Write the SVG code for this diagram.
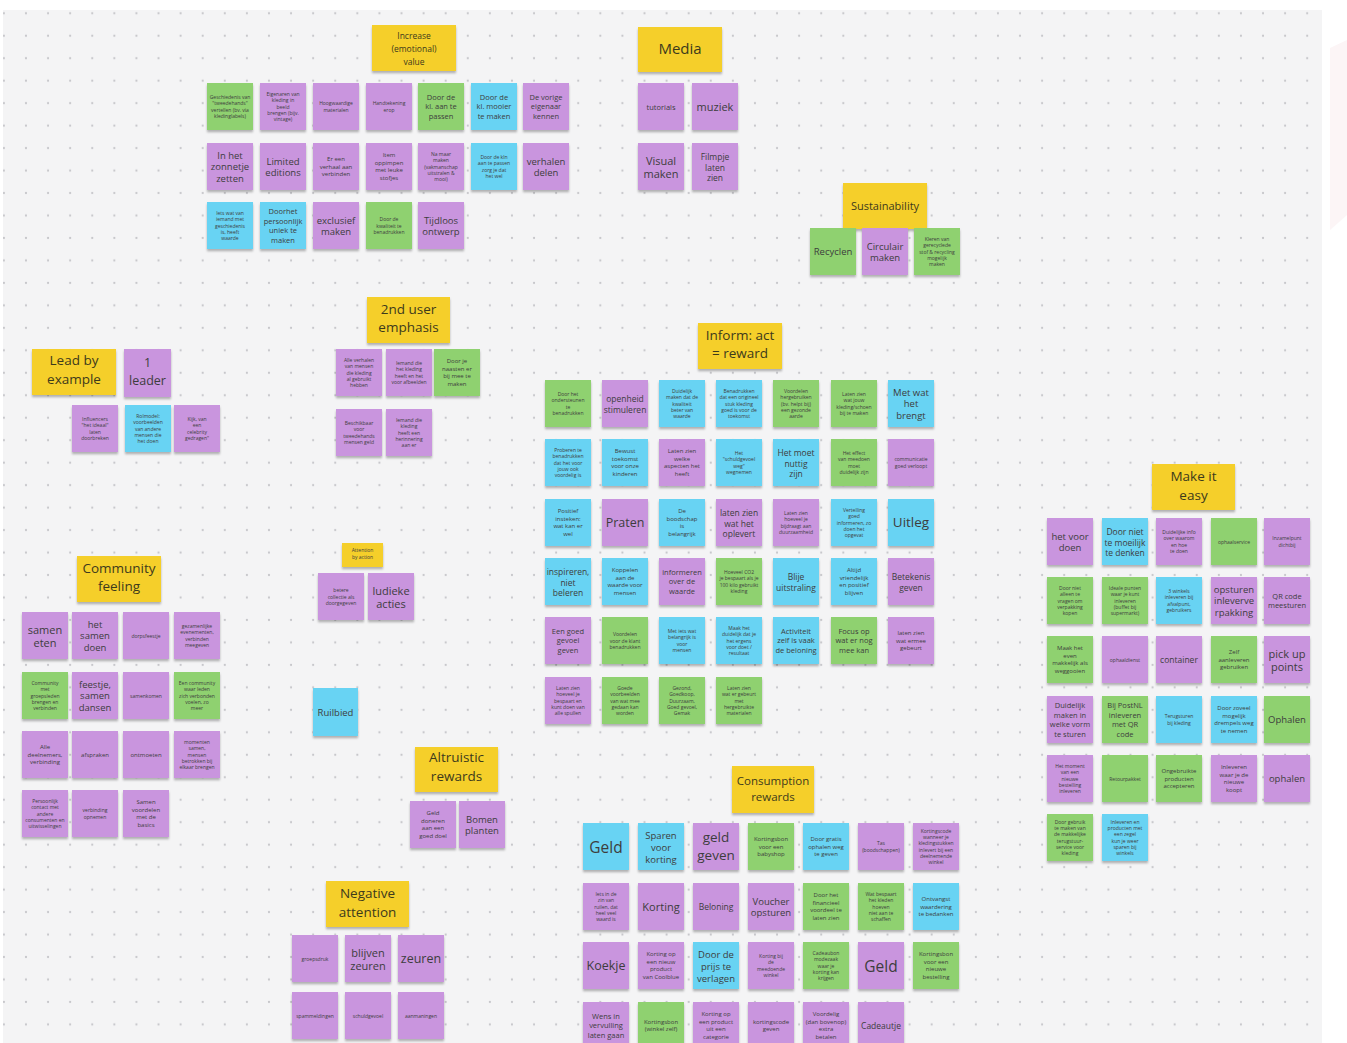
<svg xmlns="http://www.w3.org/2000/svg" width="1347" height="1043" viewBox="0 0 1347 1043">
<defs>
<pattern id="dots" patternUnits="userSpaceOnUse" x="3.9" y="13.3" width="22.09" height="22.47"><circle cx="0" cy="0" r="1.1" fill="#c6c6ca"/><circle cx="22.09" cy="0" r="1.1" fill="#c6c6ca"/><circle cx="0" cy="22.47" r="1.1" fill="#c6c6ca"/><circle cx="22.09" cy="22.47" r="1.1" fill="#c6c6ca"/></pattern>
<filter id="sh" x="-10%" y="-10%" width="120%" height="135%"><feDropShadow dx="0" dy="2.2" stdDeviation="1.3" flood-color="#000" flood-opacity="0.28"/></filter>
</defs>
<style>
.p{fill:#c995de}.g{fill:#8fd16f}.b{fill:#68d3f3}.y{fill:#f5cf2a}
rect.n{filter:url(#sh)}
text{font-family:"Open Sans","Noto Sans",sans-serif;text-anchor:middle;dominant-baseline:central;fill:#3d3d3d}
.s{font-size:5px}.t{font-size:6px}.m{font-size:7.5px}.ml{font-size:8.5px}.l{font-size:9.5px}.k{font-size:11px}.xl{font-size:12.5px}.xxl{font-size:15.5px}
.h{font-size:13.5px;fill:#3d3a1c}
</style>
<rect x="0" y="0" width="1347" height="1043" fill="#ffffff"/>
<polygon points="1330,48 1347,40 1347,215 1330,230" fill="#fcf5f6"/>
<rect x="3" y="10" width="1319" height="1033" fill="#f4f4f5"/>
<rect x="3" y="10" width="1319" height="1033" fill="url(#dots)"/>
<g id="connectors"/>

<!-- Increase (emotional) value -->
<g id="h-increase" transform="translate(372,25)"><rect class="n y" width="84" height="46"/><text class="h" style="font-size:8.5px" y="10.25"><tspan x="42">Increase</tspan><tspan x="42" dy="1.5em">(emotional)</tspan><tspan x="42" dy="1.5em">value</tspan></text></g>
<g id="inc-1" transform="translate(207,83)"><rect class="n g" width="46" height="47"/><text class="s" y="14.1"><tspan x="23">Geschiedenis van</tspan><tspan x="23" dy="1.25em">"tweedehands"</tspan><tspan x="23" dy="1.25em">vertellen (bv. via</tspan><tspan x="23" dy="1.25em">kledinglabels)</tspan></text></g>
<g id="inc-2" transform="translate(260,83)"><rect class="n p" width="46" height="47"/><text class="s" y="11"><tspan x="23">Eigenaren van</tspan><tspan x="23" dy="1.25em">kleding in</tspan><tspan x="23" dy="1.25em">beeld</tspan><tspan x="23" dy="1.25em">brengen (bijv.</tspan><tspan x="23" dy="1.25em">vintage)</tspan></text></g>
<g id="inc-3" transform="translate(313,83)"><rect class="n p" width="46" height="47"/><text class="s" y="20.4"><tspan x="23">Hoogwaardige</tspan><tspan x="23" dy="1.25em">materialen</tspan></text></g>
<g id="inc-4" transform="translate(366,83)"><rect class="n p" width="46" height="47"/><text class="s" y="20.4"><tspan x="23">Handtekening</tspan><tspan x="23" dy="1.25em">erop</tspan></text></g>
<g id="inc-5" transform="translate(418,83)"><rect class="n g" width="46" height="47"/><text class="m" y="14.1"><tspan x="23">Door de</tspan><tspan x="23" dy="1.25em">kl. aan te</tspan><tspan x="23" dy="1.25em">passen</tspan></text></g>
<g id="inc-6" transform="translate(471,83)"><rect class="n b" width="46" height="47"/><text class="m" y="14.1"><tspan x="23">Door de</tspan><tspan x="23" dy="1.25em">kl. mooier</tspan><tspan x="23" dy="1.25em">te maken</tspan></text></g>
<g id="inc-7" transform="translate(523,83)"><rect class="n p" width="46" height="47"/><text class="m" y="14.1"><tspan x="23">De vorige</tspan><tspan x="23" dy="1.25em">eigenaar</tspan><tspan x="23" dy="1.25em">kennen</tspan></text></g>
<g id="inc-8" transform="translate(207,143)"><rect class="n p" width="46" height="47"/><text class="l" y="11.6"><tspan x="23">In het</tspan><tspan x="23" dy="1.25em">zonnetje</tspan><tspan x="23" dy="1.25em">zetten</tspan></text></g>
<g id="inc-9" transform="translate(260,143)"><rect class="n p" width="46" height="47"/><text class="l" y="17.6"><tspan x="23">Limited</tspan><tspan x="23" dy="1.25em">editions</tspan></text></g>
<g id="inc-10" transform="translate(313,143)"><rect class="n p" width="46" height="47"/><text class="t" y="16"><tspan x="23">Er een</tspan><tspan x="23" dy="1.25em">verhaal aan</tspan><tspan x="23" dy="1.25em">verbinden</tspan></text></g>
<g id="inc-11" transform="translate(366,143)"><rect class="n p" width="46" height="47"/><text class="t" y="12.25"><tspan x="23">Item</tspan><tspan x="23" dy="1.25em">oppimpen</tspan><tspan x="23" dy="1.25em">met leuke</tspan><tspan x="23" dy="1.25em">stofjes</tspan></text></g>
<g id="inc-12" transform="translate(418,143)"><rect class="n p" width="46" height="47"/><text class="s" y="11"><tspan x="23">Na maar</tspan><tspan x="23" dy="1.25em">maken</tspan><tspan x="23" dy="1.25em">(vakmanschap</tspan><tspan x="23" dy="1.25em">uitstralen &amp;</tspan><tspan x="23" dy="1.25em">mooi)</tspan></text></g>
<g id="inc-13" transform="translate(471,143)"><rect class="n b" width="46" height="47"/><text class="s" y="14.1"><tspan x="23">Door de kln</tspan><tspan x="23" dy="1.25em">aan te passen</tspan><tspan x="23" dy="1.25em">zorg je dat</tspan><tspan x="23" dy="1.25em">het wel</tspan></text></g>
<g id="inc-14" transform="translate(523,143)"><rect class="n p" width="46" height="47"/><text class="l" y="17.6"><tspan x="23">verhalen</tspan><tspan x="23" dy="1.25em">delen</tspan></text></g>
<g id="inc-15" transform="translate(207,202)"><rect class="n b" width="46" height="47"/><text class="s" y="11"><tspan x="23">Iets wat van</tspan><tspan x="23" dy="1.25em">iemand met</tspan><tspan x="23" dy="1.25em">geschiedenis</tspan><tspan x="23" dy="1.25em">is, heeft</tspan><tspan x="23" dy="1.25em">waarde</tspan></text></g>
<g id="inc-16" transform="translate(260,202)"><rect class="n b" width="46" height="47"/><text class="m" y="9.4"><tspan x="23">Doorhet</tspan><tspan x="23" dy="1.25em">persoonlijk</tspan><tspan x="23" dy="1.25em">uniek te</tspan><tspan x="23" dy="1.25em">maken</tspan></text></g>
<g id="inc-17" transform="translate(313,202)"><rect class="n p" width="46" height="47"/><text class="l" y="17.6"><tspan x="23">exclusief</tspan><tspan x="23" dy="1.25em">maken</tspan></text></g>
<g id="inc-18" transform="translate(366,202)"><rect class="n g" width="46" height="47"/><text class="s" y="17.25"><tspan x="23">Door de</tspan><tspan x="23" dy="1.25em">kwaliteit te</tspan><tspan x="23" dy="1.25em">benadrukken</tspan></text></g>
<g id="inc-19" transform="translate(418,202)"><rect class="n p" width="46" height="47"/><text class="l" y="17.6"><tspan x="23">Tijdloos</tspan><tspan x="23" dy="1.25em">ontwerp</tspan></text></g>

<!-- Media -->
<g id="h-media" transform="translate(638,27)"><rect class="n y" width="84" height="45"/><text class="h" style="font-size:15px" x="42" y="21">Media</text></g>
<g id="med-1" transform="translate(638,83)"><rect class="n p" width="46" height="47"/><text class="m" x="23" y="23.5">tutorials</text></g>
<g id="med-2" transform="translate(692,83)"><rect class="n p" width="46" height="47"/><text class="k" x="23" y="23.5">muziek</text></g>
<g id="med-3" transform="translate(638,143)"><rect class="n p" width="46" height="47"/><text class="k" y="16.6"><tspan x="23">Visual</tspan><tspan x="23" dy="1.25em">maken</tspan></text></g>
<g id="med-4" transform="translate(692,143)"><rect class="n p" width="46" height="47"/><text class="ml" y="12.9"><tspan x="23">Filmpje</tspan><tspan x="23" dy="1.25em">laten</tspan><tspan x="23" dy="1.25em">zien</tspan></text></g>

<!-- Sustainability -->
<g id="h-sustain" transform="translate(843,183)"><rect class="n y" width="84" height="46"/><text class="h" style="font-size:11px" x="42" y="22">Sustainability</text></g>
<g id="sus-1" transform="translate(810,228)"><rect class="n g" width="46" height="47"/><text class="l" x="23" y="23.5">Recyclen</text></g>
<g id="sus-2" transform="translate(862,228)"><rect class="n p" width="46" height="47"/><text class="l" y="17.6"><tspan x="23">Circulair</tspan><tspan x="23" dy="1.25em">maken</tspan></text></g>
<g id="sus-3" transform="translate(914,228)"><rect class="n g" width="46" height="47"/><text class="s" y="11"><tspan x="23">Kleren van</tspan><tspan x="23" dy="1.25em">gerecyclede</tspan><tspan x="23" dy="1.25em">stof &amp; recycling</tspan><tspan x="23" dy="1.25em">mogelijk</tspan><tspan x="23" dy="1.25em">maken</tspan></text></g>

<!-- 2nd user emphasis -->
<g id="h-2nduser" transform="translate(367,297)"><rect class="n y" width="83" height="46"/><text class="h" y="11.5"><tspan x="41.5">2nd user</tspan><tspan x="41.5" dy="18.3">emphasis</tspan></text></g>
<g id="sec-1" transform="translate(336,349)"><rect class="n p" width="46" height="47"/><text class="s" y="11"><tspan x="23">Alle verhalen</tspan><tspan x="23" dy="1.25em">van mensen</tspan><tspan x="23" dy="1.25em">die kleding</tspan><tspan x="23" dy="1.25em">al gebruikt</tspan><tspan x="23" dy="1.25em">hebben</tspan></text></g>
<g id="sec-2" transform="translate(386,349)"><rect class="n p" width="46" height="47"/><text class="s" y="14.1"><tspan x="23">Iemand die</tspan><tspan x="23" dy="1.25em">het kleding</tspan><tspan x="23" dy="1.25em">heeft en het</tspan><tspan x="23" dy="1.25em">voor afbeelden</tspan></text></g>
<g id="sec-3" transform="translate(434,349)"><rect class="n g" width="46" height="47"/><text class="t" y="12.25"><tspan x="23">Door je</tspan><tspan x="23" dy="1.25em">naasten er</tspan><tspan x="23" dy="1.25em">bij mee te</tspan><tspan x="23" dy="1.25em">maken</tspan></text></g>
<g id="sec-4" transform="translate(336,409)"><rect class="n p" width="46" height="47"/><text class="s" y="14.1"><tspan x="23">Beschikbaar</tspan><tspan x="23" dy="1.25em">voor</tspan><tspan x="23" dy="1.25em">tweedehands</tspan><tspan x="23" dy="1.25em">mensen geld</tspan></text></g>
<g id="sec-5" transform="translate(386,409)"><rect class="n p" width="46" height="47"/><text class="s" y="11"><tspan x="23">Iemand die</tspan><tspan x="23" dy="1.25em">kleding</tspan><tspan x="23" dy="1.25em">heeft een</tspan><tspan x="23" dy="1.25em">herinnering</tspan><tspan x="23" dy="1.25em">aan er</tspan></text></g>

<!-- Lead by example -->
<g id="h-lead" transform="translate(32,349)"><rect class="n y" width="84" height="46"/><text class="h" y="11"><tspan x="42">Lead by</tspan><tspan x="42" dy="19">example</tspan></text></g>
<g id="lead-1" transform="translate(124,349)"><rect class="n p" width="47" height="48"/><text class="xl" y="13"><tspan x="23.5">1</tspan><tspan x="23.5" dy="18">leader</tspan></text></g>
<g id="lead-2" transform="translate(72,405)"><rect class="n p" width="46" height="47"/><text class="s" y="14.1"><tspan x="23">Influencers</tspan><tspan x="23" dy="1.25em">"het ideaal"</tspan><tspan x="23" dy="1.25em">laten</tspan><tspan x="23" dy="1.25em">doorbreken</tspan></text></g>
<g id="lead-3" transform="translate(125,405)"><rect class="n b" width="46" height="47"/><text class="s" y="11"><tspan x="23">Rolmodel:</tspan><tspan x="23" dy="1.25em">voorbeelden</tspan><tspan x="23" dy="1.25em">van andere</tspan><tspan x="23" dy="1.25em">mensen die</tspan><tspan x="23" dy="1.25em">het doen</tspan></text></g>
<g id="lead-4" transform="translate(174,405)"><rect class="n p" width="46" height="47"/><text class="s" y="14.1"><tspan x="23">Kijk, van</tspan><tspan x="23" dy="1.25em">een</tspan><tspan x="23" dy="1.25em">celebrity</tspan><tspan x="23" dy="1.25em">gedragen"</tspan></text></g>

<!-- Inform: act = reward -->
<g id="h-inform" transform="translate(698,323)"><rect class="n y" width="84" height="46"/><text class="h" y="12"><tspan x="42">Inform: act</tspan><tspan x="42" dy="18.3">= reward</tspan></text></g>
<g id="inf-1" transform="translate(545,380)"><rect class="n g" width="46" height="47"/><text class="s" y="14.1"><tspan x="23">Door het</tspan><tspan x="23" dy="1.25em">ondersteunen</tspan><tspan x="23" dy="1.25em">te</tspan><tspan x="23" dy="1.25em">benadrukken</tspan></text></g>
<g id="inf-2" transform="translate(602,380)"><rect class="n p" width="46" height="47"/><text class="ml" y="18.2"><tspan x="23">openheid</tspan><tspan x="23" dy="1.25em">stimuleren</tspan></text></g>
<g id="inf-3" transform="translate(659,380)"><rect class="n b" width="46" height="47"/><text class="s" y="11"><tspan x="23">Duidelijk</tspan><tspan x="23" dy="1.25em">maken dat de</tspan><tspan x="23" dy="1.25em">kwaliteit</tspan><tspan x="23" dy="1.25em">beter van</tspan><tspan x="23" dy="1.25em">waarde</tspan></text></g>
<g id="inf-4" transform="translate(716,380)"><rect class="n b" width="46" height="47"/><text class="s" y="11"><tspan x="23">Benadrukken</tspan><tspan x="23" dy="1.25em">dat een origineel</tspan><tspan x="23" dy="1.25em">stuk kleding</tspan><tspan x="23" dy="1.25em">goed is voor de</tspan><tspan x="23" dy="1.25em">toekomst</tspan></text></g>
<g id="inf-5" transform="translate(773,380)"><rect class="n g" width="46" height="47"/><text class="s" y="11"><tspan x="23">Voordelen</tspan><tspan x="23" dy="1.25em">hergebruiken</tspan><tspan x="23" dy="1.25em">(bv. helpt bij)</tspan><tspan x="23" dy="1.25em">een gezonde</tspan><tspan x="23" dy="1.25em">aarde</tspan></text></g>
<g id="inf-6" transform="translate(831,380)"><rect class="n g" width="46" height="47"/><text class="s" y="14.1"><tspan x="23">Laten zien</tspan><tspan x="23" dy="1.25em">wat jouw</tspan><tspan x="23" dy="1.25em">kleding/schoen</tspan><tspan x="23" dy="1.25em">bij te maken</tspan></text></g>
<g id="inf-7" transform="translate(888,380)"><rect class="n b" width="46" height="47"/><text class="l" y="11.6"><tspan x="23">Met wat</tspan><tspan x="23" dy="1.25em">het</tspan><tspan x="23" dy="1.25em">brengt</tspan></text></g>
<g id="inf-8" transform="translate(545,439)"><rect class="n b" width="46" height="47"/><text class="s" y="11"><tspan x="23">Proberen te</tspan><tspan x="23" dy="1.25em">benadrukken</tspan><tspan x="23" dy="1.25em">dat het voor</tspan><tspan x="23" dy="1.25em">jouw ook</tspan><tspan x="23" dy="1.25em">voordelig is</tspan></text></g>
<g id="inf-9" transform="translate(602,439)"><rect class="n b" width="46" height="47"/><text class="t" y="12.25"><tspan x="23">Bewust</tspan><tspan x="23" dy="1.25em">toekomst</tspan><tspan x="23" dy="1.25em">voor onze</tspan><tspan x="23" dy="1.25em">kinderen</tspan></text></g>
<g id="inf-10" transform="translate(659,439)"><rect class="n p" width="46" height="47"/><text class="t" y="12.25"><tspan x="23">Laten zien</tspan><tspan x="23" dy="1.25em">welke</tspan><tspan x="23" dy="1.25em">aspecten het</tspan><tspan x="23" dy="1.25em">heeft</tspan></text></g>
<g id="inf-11" transform="translate(716,439)"><rect class="n b" width="46" height="47"/><text class="s" y="14.1"><tspan x="23">Het</tspan><tspan x="23" dy="1.25em">"schuldgevoel</tspan><tspan x="23" dy="1.25em">weg"</tspan><tspan x="23" dy="1.25em">wegnemen</tspan></text></g>
<g id="inf-12" transform="translate(773,439)"><rect class="n b" width="46" height="47"/><text class="ml" y="12.9"><tspan x="23">Het moet</tspan><tspan x="23" dy="1.25em">nuttig</tspan><tspan x="23" dy="1.25em">zijn</tspan></text></g>
<g id="inf-13" transform="translate(831,439)"><rect class="n g" width="46" height="47"/><text class="s" y="14.1"><tspan x="23">Het effect</tspan><tspan x="23" dy="1.25em">van meedoen</tspan><tspan x="23" dy="1.25em">moet</tspan><tspan x="23" dy="1.25em">duidelijk zijn</tspan></text></g>
<g id="inf-14" transform="translate(888,439)"><rect class="n p" width="46" height="47"/><text class="s" y="20.4"><tspan x="23">communicatie</tspan><tspan x="23" dy="1.25em">goed verloopt</tspan></text></g>
<g id="inf-15" transform="translate(545,499)"><rect class="n b" width="46" height="47"/><text class="t" y="12.25"><tspan x="23">Positief</tspan><tspan x="23" dy="1.25em">insteken:</tspan><tspan x="23" dy="1.25em">wat kan er</tspan><tspan x="23" dy="1.25em">wel</tspan></text></g>
<g id="inf-16" transform="translate(602,499)"><rect class="n p" width="46" height="47"/><text class="xl" x="23" y="23.5">Praten</text></g>
<g id="inf-17" transform="translate(659,499)"><rect class="n b" width="46" height="47"/><text class="t" y="12.25"><tspan x="23">De</tspan><tspan x="23" dy="1.25em">boodschap</tspan><tspan x="23" dy="1.25em">is</tspan><tspan x="23" dy="1.25em">belangrijk</tspan></text></g>
<g id="inf-18" transform="translate(716,499)"><rect class="n p" width="46" height="47"/><text class="ml" y="12.9"><tspan x="23">laten zien</tspan><tspan x="23" dy="1.25em">wat het</tspan><tspan x="23" dy="1.25em">oplevert</tspan></text></g>
<g id="inf-19" transform="translate(773,499)"><rect class="n p" width="46" height="47"/><text class="s" y="14.1"><tspan x="23">Laten zien</tspan><tspan x="23" dy="1.25em">hoeveel je</tspan><tspan x="23" dy="1.25em">bijdraagt aan</tspan><tspan x="23" dy="1.25em">duurzaamheid</tspan></text></g>
<g id="inf-20" transform="translate(831,499)"><rect class="n b" width="46" height="47"/><text class="s" y="11"><tspan x="23">Vertelling</tspan><tspan x="23" dy="1.25em">goed</tspan><tspan x="23" dy="1.25em">informeren, zo</tspan><tspan x="23" dy="1.25em">doen het</tspan><tspan x="23" dy="1.25em">opgevat</tspan></text></g>
<g id="inf-21" transform="translate(888,499)"><rect class="n b" width="46" height="47"/><text class="xl" style="font-size:13.5px" x="23" y="23">Uitleg</text></g>
<g id="inf-22" transform="translate(545,558)"><rect class="n b" width="46" height="47"/><text class="ml" y="12.9"><tspan x="23">inspireren,</tspan><tspan x="23" dy="1.25em">niet</tspan><tspan x="23" dy="1.25em">beleren</tspan></text></g>
<g id="inf-23" transform="translate(602,558)"><rect class="n b" width="46" height="47"/><text class="t" y="12.25"><tspan x="23">Koppelen</tspan><tspan x="23" dy="1.25em">aan de</tspan><tspan x="23" dy="1.25em">waarde voor</tspan><tspan x="23" dy="1.25em">mensen</tspan></text></g>
<g id="inf-24" transform="translate(659,558)"><rect class="n p" width="46" height="47"/><text class="m" y="14.1"><tspan x="23">informeren</tspan><tspan x="23" dy="1.25em">over de</tspan><tspan x="23" dy="1.25em">waarde</tspan></text></g>
<g id="inf-25" transform="translate(716,558)"><rect class="n g" width="46" height="47"/><text class="s" y="14.1"><tspan x="23">Hoeveel CO2</tspan><tspan x="23" dy="1.25em">je bespaart als je</tspan><tspan x="23" dy="1.25em">100 kilo gebruikt</tspan><tspan x="23" dy="1.25em">kleding</tspan></text></g>
<g id="inf-26" transform="translate(773,558)"><rect class="n b" width="46" height="47"/><text class="ml" y="18.2"><tspan x="23">Blije</tspan><tspan x="23" dy="1.25em">uitstraling</tspan></text></g>
<g id="inf-27" transform="translate(831,558)"><rect class="n b" width="46" height="47"/><text class="t" y="12.25"><tspan x="23">Altijd</tspan><tspan x="23" dy="1.25em">vriendelijk</tspan><tspan x="23" dy="1.25em">en positief</tspan><tspan x="23" dy="1.25em">blijven</tspan></text></g>
<g id="inf-28" transform="translate(888,558)"><rect class="n p" width="46" height="47"/><text class="ml" y="18.2"><tspan x="23">Betekenis</tspan><tspan x="23" dy="1.25em">geven</tspan></text></g>
<g id="inf-29" transform="translate(545,617)"><rect class="n p" width="46" height="47"/><text class="m" y="14.1"><tspan x="23">Een goed</tspan><tspan x="23" dy="1.25em">gevoel</tspan><tspan x="23" dy="1.25em">geven</tspan></text></g>
<g id="inf-30" transform="translate(602,617)"><rect class="n g" width="46" height="47"/><text class="s" y="17.25"><tspan x="23">Voordelen</tspan><tspan x="23" dy="1.25em">voor de klant</tspan><tspan x="23" dy="1.25em">benadrukken</tspan></text></g>
<g id="inf-31" transform="translate(659,617)"><rect class="n b" width="46" height="47"/><text class="s" y="14.1"><tspan x="23">Met iets wat</tspan><tspan x="23" dy="1.25em">belangrijk is</tspan><tspan x="23" dy="1.25em">voor</tspan><tspan x="23" dy="1.25em">mensen</tspan></text></g>
<g id="inf-32" transform="translate(716,617)"><rect class="n b" width="46" height="47"/><text class="s" y="11"><tspan x="23">Maak het</tspan><tspan x="23" dy="1.25em">duidelijk dat je</tspan><tspan x="23" dy="1.25em">het ergens</tspan><tspan x="23" dy="1.25em">voor doet /</tspan><tspan x="23" dy="1.25em">resultaat</tspan></text></g>
<g id="inf-33" transform="translate(773,617)"><rect class="n b" width="46" height="47"/><text class="m" y="14.1"><tspan x="23">Activiteit</tspan><tspan x="23" dy="1.25em">zelf is vaak</tspan><tspan x="23" dy="1.25em">de beloning</tspan></text></g>
<g id="inf-34" transform="translate(831,617)"><rect class="n g" width="46" height="47"/><text class="m" y="14.1"><tspan x="23">Focus op</tspan><tspan x="23" dy="1.25em">wat er nog</tspan><tspan x="23" dy="1.25em">mee kan</tspan></text></g>
<g id="inf-35" transform="translate(888,617)"><rect class="n p" width="46" height="47"/><text class="t" y="16"><tspan x="23">laten zien</tspan><tspan x="23" dy="1.25em">wat ermee</tspan><tspan x="23" dy="1.25em">gebeurt</tspan></text></g>
<g id="inf-36" transform="translate(545,677)"><rect class="n p" width="46" height="47"/><text class="s" y="11"><tspan x="23">Laten zien</tspan><tspan x="23" dy="1.25em">hoeveel je</tspan><tspan x="23" dy="1.25em">bespaart en</tspan><tspan x="23" dy="1.25em">kunt doen van</tspan><tspan x="23" dy="1.25em">alle spullen</tspan></text></g>
<g id="inf-37" transform="translate(602,677)"><rect class="n g" width="46" height="47"/><text class="s" y="11"><tspan x="23">Goede</tspan><tspan x="23" dy="1.25em">voorbeelden</tspan><tspan x="23" dy="1.25em">van wat mee</tspan><tspan x="23" dy="1.25em">gedaan kan</tspan><tspan x="23" dy="1.25em">worden</tspan></text></g>
<g id="inf-38" transform="translate(659,677)"><rect class="n g" width="46" height="47"/><text class="s" y="11"><tspan x="23">Gezond,</tspan><tspan x="23" dy="1.25em">Goedkoop,</tspan><tspan x="23" dy="1.25em">Duurzaam,</tspan><tspan x="23" dy="1.25em">Goed gevoel,</tspan><tspan x="23" dy="1.25em">Gemak</tspan></text></g>
<g id="inf-39" transform="translate(716,677)"><rect class="n g" width="46" height="47"/><text class="s" y="11"><tspan x="23">Laten zien</tspan><tspan x="23" dy="1.25em">wat er gebeurt</tspan><tspan x="23" dy="1.25em">met</tspan><tspan x="23" dy="1.25em">hergebruikte</tspan><tspan x="23" dy="1.25em">materialen</tspan></text></g>

<!-- Make it easy -->
<g id="h-easy" transform="translate(1152,464)"><rect class="n y" width="83" height="46"/><text class="h" y="12"><tspan x="41.5">Make it</tspan><tspan x="41.5" dy="19">easy</tspan></text></g>
<g id="easy-1" transform="translate(1047,518)"><rect class="n p" width="46" height="47"/><text class="l" y="17.6"><tspan x="23">het voor</tspan><tspan x="23" dy="1.25em">doen</tspan></text></g>
<g id="easy-2" transform="translate(1102,518)"><rect class="n b" width="46" height="47"/><text class="ml" y="12.9"><tspan x="23">Door niet</tspan><tspan x="23" dy="1.25em">te moeilijk</tspan><tspan x="23" dy="1.25em">te denken</tspan></text></g>
<g id="easy-3" transform="translate(1156,518)"><rect class="n p" width="46" height="47"/><text class="s" y="14.1"><tspan x="23">Duidelijke info</tspan><tspan x="23" dy="1.25em">over waarom</tspan><tspan x="23" dy="1.25em">en hoe</tspan><tspan x="23" dy="1.25em">te doen</tspan></text></g>
<g id="easy-4" transform="translate(1211,518)"><rect class="n g" width="46" height="47"/><text class="s" x="23" y="23.5">ophaalservice</text></g>
<g id="easy-5" transform="translate(1264,518)"><rect class="n p" width="46" height="47"/><text class="s" y="20.4"><tspan x="23">Inzamelpunt</tspan><tspan x="23" dy="1.25em">dichtbij</tspan></text></g>
<g id="easy-6" transform="translate(1047,577)"><rect class="n g" width="46" height="47"/><text class="s" y="11"><tspan x="23">Door niet</tspan><tspan x="23" dy="1.25em">alleen te</tspan><tspan x="23" dy="1.25em">vragen om</tspan><tspan x="23" dy="1.25em">verpakking</tspan><tspan x="23" dy="1.25em">kopen</tspan></text></g>
<g id="easy-7" transform="translate(1102,577)"><rect class="n g" width="46" height="47"/><text class="s" y="11"><tspan x="23">Ideale punten</tspan><tspan x="23" dy="1.25em">waar je kunt</tspan><tspan x="23" dy="1.25em">inleveren</tspan><tspan x="23" dy="1.25em">(buffet bij</tspan><tspan x="23" dy="1.25em">supermarkt)</tspan></text></g>
<g id="easy-8" transform="translate(1156,577)"><rect class="n b" width="46" height="47"/><text class="s" y="14.1"><tspan x="23">3 winkels</tspan><tspan x="23" dy="1.25em">inleveren bij</tspan><tspan x="23" dy="1.25em">afvalpunt,</tspan><tspan x="23" dy="1.25em">gebruikers</tspan></text></g>
<g id="easy-9" transform="translate(1211,577)"><rect class="n p" width="46" height="47"/><text class="l" y="11.6"><tspan x="23">opsturen</tspan><tspan x="23" dy="1.25em">inleverve</tspan><tspan x="23" dy="1.25em">rpakking</tspan></text></g>
<g id="easy-10" transform="translate(1264,577)"><rect class="n p" width="46" height="47"/><text class="m" y="18.8"><tspan x="23">QR code</tspan><tspan x="23" dy="1.25em">meesturen</tspan></text></g>
<g id="easy-11" transform="translate(1047,636)"><rect class="n g" width="46" height="47"/><text class="t" y="12.25"><tspan x="23">Maak het</tspan><tspan x="23" dy="1.25em">even</tspan><tspan x="23" dy="1.25em">makkelijk als</tspan><tspan x="23" dy="1.25em">weggooien</tspan></text></g>
<g id="easy-12" transform="translate(1102,636)"><rect class="n p" width="46" height="47"/><text class="s" x="23" y="23.5">ophaaldienst</text></g>
<g id="easy-13" transform="translate(1156,636)"><rect class="n p" width="46" height="47"/><text class="ml" x="23" y="23.5">container</text></g>
<g id="easy-14" transform="translate(1211,636)"><rect class="n g" width="46" height="47"/><text class="t" y="16"><tspan x="23">Zelf</tspan><tspan x="23" dy="1.25em">aanleveren</tspan><tspan x="23" dy="1.25em">gebruiken</tspan></text></g>
<g id="easy-15" transform="translate(1264,636)"><rect class="n p" width="46" height="47"/><text class="k" y="16.6"><tspan x="23">pick up</tspan><tspan x="23" dy="1.25em">points</tspan></text></g>
<g id="easy-16" transform="translate(1047,696)"><rect class="n p" width="46" height="47"/><text class="m" y="9.4"><tspan x="23">Duidelijk</tspan><tspan x="23" dy="1.25em">maken in</tspan><tspan x="23" dy="1.25em">welke vorm</tspan><tspan x="23" dy="1.25em">te sturen</tspan></text></g>
<g id="easy-17" transform="translate(1102,696)"><rect class="n g" width="46" height="47"/><text class="m" y="9.4"><tspan x="23">Bij PostNL</tspan><tspan x="23" dy="1.25em">inleveren</tspan><tspan x="23" dy="1.25em">met QR</tspan><tspan x="23" dy="1.25em">code</tspan></text></g>
<g id="easy-18" transform="translate(1156,696)"><rect class="n b" width="46" height="47"/><text class="s" y="20.4"><tspan x="23">Terugsturen</tspan><tspan x="23" dy="1.25em">bij kleding</tspan></text></g>
<g id="easy-19" transform="translate(1211,696)"><rect class="n b" width="46" height="47"/><text class="t" y="12.25"><tspan x="23">Door zoveel</tspan><tspan x="23" dy="1.25em">mogelijk</tspan><tspan x="23" dy="1.25em">drempels weg</tspan><tspan x="23" dy="1.25em">te nemen</tspan></text></g>
<g id="easy-20" transform="translate(1264,696)"><rect class="n g" width="46" height="47"/><text class="l" x="23" y="23.5">Ophalen</text></g>
<g id="easy-21" transform="translate(1047,755)"><rect class="n p" width="46" height="47"/><text class="s" y="11"><tspan x="23">Het moment</tspan><tspan x="23" dy="1.25em">van een</tspan><tspan x="23" dy="1.25em">nieuwe</tspan><tspan x="23" dy="1.25em">bestelling</tspan><tspan x="23" dy="1.25em">inleveren</tspan></text></g>
<g id="easy-22" transform="translate(1102,755)"><rect class="n g" width="46" height="47"/><text class="s" x="23" y="23.5">Retourpakket</text></g>
<g id="easy-23" transform="translate(1156,755)"><rect class="n g" width="46" height="47"/><text class="t" y="16"><tspan x="23">Ongebruikte</tspan><tspan x="23" dy="1.25em">producten</tspan><tspan x="23" dy="1.25em">accepteren</tspan></text></g>
<g id="easy-24" transform="translate(1211,755)"><rect class="n p" width="46" height="47"/><text class="t" y="12.25"><tspan x="23">Inleveren</tspan><tspan x="23" dy="1.25em">waar je de</tspan><tspan x="23" dy="1.25em">nieuwe</tspan><tspan x="23" dy="1.25em">koopt</tspan></text></g>
<g id="easy-25" transform="translate(1264,755)"><rect class="n p" width="46" height="47"/><text class="l" x="23" y="23.5">ophalen</text></g>
<g id="easy-26" transform="translate(1047,814)"><rect class="n g" width="46" height="47"/><text class="s" y="7.9"><tspan x="23">Door gebruik</tspan><tspan x="23" dy="1.25em">te maken van</tspan><tspan x="23" dy="1.25em">de makkelijke</tspan><tspan x="23" dy="1.25em">terugstuur-</tspan><tspan x="23" dy="1.25em">service voor</tspan><tspan x="23" dy="1.25em">kleding</tspan></text></g>
<g id="easy-27" transform="translate(1102,814)"><rect class="n b" width="46" height="47"/><text class="s" y="7.9"><tspan x="23">Inleveren en</tspan><tspan x="23" dy="1.25em">producten met</tspan><tspan x="23" dy="1.25em">een zegel</tspan><tspan x="23" dy="1.25em">kun je weer</tspan><tspan x="23" dy="1.25em">sparen bij</tspan><tspan x="23" dy="1.25em">winkels</tspan></text></g>

<!-- Community feeling -->
<g id="h-community" transform="translate(77,556)"><rect class="n y" width="84" height="46"/><text class="h" y="11.7"><tspan x="42">Community</tspan><tspan x="42" dy="18.3">feeling</tspan></text></g>
<g id="com-1" transform="translate(22,612)"><rect class="n p" width="46" height="47"/><text class="k" y="16.6"><tspan x="23">samen</tspan><tspan x="23" dy="1.25em">eten</tspan></text></g>
<g id="com-2" transform="translate(72,612)"><rect class="n p" width="46" height="47"/><text class="l" y="11.6"><tspan x="23">het</tspan><tspan x="23" dy="1.25em">samen</tspan><tspan x="23" dy="1.25em">doen</tspan></text></g>
<g id="com-3" transform="translate(123,612)"><rect class="n p" width="46" height="47"/><text class="s" x="23" y="23.5">dorpsfeestje</text></g>
<g id="com-4" transform="translate(174,612)"><rect class="n p" width="46" height="47"/><text class="s" y="14.1"><tspan x="23">gezamenlijke</tspan><tspan x="23" dy="1.25em">evenementen,</tspan><tspan x="23" dy="1.25em">verbinden</tspan><tspan x="23" dy="1.25em">meegeven</tspan></text></g>
<g id="com-5" transform="translate(22,672)"><rect class="n g" width="46" height="47"/><text class="s" y="11"><tspan x="23">Community</tspan><tspan x="23" dy="1.25em">met</tspan><tspan x="23" dy="1.25em">groepsleden</tspan><tspan x="23" dy="1.25em">brengen en</tspan><tspan x="23" dy="1.25em">verbinden</tspan></text></g>
<g id="com-6" transform="translate(72,672)"><rect class="n p" width="46" height="47"/><text class="l" y="11.6"><tspan x="23">feestje,</tspan><tspan x="23" dy="1.25em">samen</tspan><tspan x="23" dy="1.25em">dansen</tspan></text></g>
<g id="com-7" transform="translate(123,672)"><rect class="n p" width="46" height="47"/><text class="s" x="23" y="23.5">samenkomen</text></g>
<g id="com-8" transform="translate(174,672)"><rect class="n g" width="46" height="47"/><text class="s" y="11"><tspan x="23">Een community</tspan><tspan x="23" dy="1.25em">waar leden</tspan><tspan x="23" dy="1.25em">zich verbonden</tspan><tspan x="23" dy="1.25em">voelen, zo</tspan><tspan x="23" dy="1.25em">meer</tspan></text></g>
<g id="com-9" transform="translate(22,731)"><rect class="n p" width="46" height="47"/><text class="t" y="16"><tspan x="23">Alle</tspan><tspan x="23" dy="1.25em">deelnemers,</tspan><tspan x="23" dy="1.25em">verbinding</tspan></text></g>
<g id="com-10" transform="translate(72,731)"><rect class="n p" width="46" height="47"/><text class="t" x="23" y="23.5">afspraken</text></g>
<g id="com-11" transform="translate(123,731)"><rect class="n p" width="46" height="47"/><text class="t" x="23" y="23.5">ontmoeten</text></g>
<g id="com-12" transform="translate(174,731)"><rect class="n p" width="46" height="47"/><text class="s" y="11"><tspan x="23">momenten</tspan><tspan x="23" dy="1.25em">samen,</tspan><tspan x="23" dy="1.25em">mensen</tspan><tspan x="23" dy="1.25em">betrokken bij</tspan><tspan x="23" dy="1.25em">elkaar brengen</tspan></text></g>
<g id="com-13" transform="translate(22,790)"><rect class="n p" width="46" height="47"/><text class="s" y="11"><tspan x="23">Persoonlijk</tspan><tspan x="23" dy="1.25em">contact met</tspan><tspan x="23" dy="1.25em">andere</tspan><tspan x="23" dy="1.25em">consumenten en</tspan><tspan x="23" dy="1.25em">uitwisselingen</tspan></text></g>
<g id="com-14" transform="translate(72,790)"><rect class="n p" width="46" height="47"/><text class="s" y="20.4"><tspan x="23">verbinding</tspan><tspan x="23" dy="1.25em">opnemen</tspan></text></g>
<g id="com-15" transform="translate(123,790)"><rect class="n p" width="46" height="47"/><text class="t" y="12.25"><tspan x="23">Samen</tspan><tspan x="23" dy="1.25em">voordelen</tspan><tspan x="23" dy="1.25em">met de</tspan><tspan x="23" dy="1.25em">basics</tspan></text></g>

<!-- Attention by action -->
<g id="h-attention" transform="translate(342,543)"><rect class="n y" width="41" height="24"/><text style="font-size:5px" y="7"><tspan x="20.5">Attention</tspan><tspan x="20.5" dy="6.5">by action</tspan></text></g>
<g id="att-1" transform="translate(318,573)"><rect class="n p" width="46" height="47"/><text class="s" y="17.25"><tspan x="23">betere</tspan><tspan x="23" dy="1.25em">collectie als</tspan><tspan x="23" dy="1.25em">doorgegeven</tspan></text></g>
<g id="att-2" transform="translate(368,573)"><rect class="n p" width="46" height="47"/><text class="k" y="16.6"><tspan x="23">ludieke</tspan><tspan x="23" dy="1.25em">acties</tspan></text></g>
<g id="ruilbied" transform="translate(313,688)"><rect class="n b" width="45" height="48"/><text class="l" x="22.5" y="24">Ruilbied</text></g>

<!-- Altruistic rewards -->
<g id="h-altruistic" transform="translate(415,747)"><rect class="n y" width="83" height="45"/><text class="h" y="10"><tspan x="41.5">Altruistic</tspan><tspan x="41.5" dy="19">rewards</tspan></text></g>
<g id="alt-1" transform="translate(410,801)"><rect class="n p" width="46" height="47"/><text class="t" y="12.25"><tspan x="23">Geld</tspan><tspan x="23" dy="1.25em">doneren</tspan><tspan x="23" dy="1.25em">aan een</tspan><tspan x="23" dy="1.25em">goed doel</tspan></text></g>
<g id="alt-2" transform="translate(459,801)"><rect class="n p" width="46" height="47"/><text class="l" y="17.6"><tspan x="23">Bomen</tspan><tspan x="23" dy="1.25em">planten</tspan></text></g>

<!-- Negative attention -->
<g id="h-negative" transform="translate(326,881)"><rect class="n y" width="83" height="46"/><text class="h" y="11.7"><tspan x="41.5">Negative</tspan><tspan x="41.5" dy="19">attention</tspan></text></g>
<g id="neg-1" transform="translate(292,935)"><rect class="n p" width="46" height="47"/><text class="s" x="23" y="23.5">groepsdruk</text></g>
<g id="neg-2" transform="translate(345,935)"><rect class="n p" width="46" height="47"/><text class="k" y="16.6"><tspan x="23">blijven</tspan><tspan x="23" dy="1.25em">zeuren</tspan></text></g>
<g id="neg-3" transform="translate(398,935)"><rect class="n p" width="46" height="47"/><text class="xl" x="23" y="23">zeuren</text></g>
<g id="neg-4" transform="translate(292,992)"><rect class="n p" width="46" height="47"/><text class="s" x="23" y="23.5">spammeldingen</text></g>
<g id="neg-5" transform="translate(345,992)"><rect class="n p" width="46" height="47"/><text class="s" x="23" y="23.5">schuldgevoel</text></g>
<g id="neg-6" transform="translate(398,992)"><rect class="n p" width="46" height="47"/><text class="s" x="23" y="23.5">aanmaningen</text></g>

<!-- Consumption rewards -->
<g id="h-consumption" transform="translate(732,766)"><rect class="n y" width="82" height="47"/><text class="h" style="font-size:11.5px" y="14"><tspan x="41">Consumption</tspan><tspan x="41" dy="15.7">rewards</tspan></text></g>
<g id="con-1" transform="translate(583,823)"><rect class="n b" width="46" height="47"/><text class="xxl" x="23" y="23.5">Geld</text></g>
<g id="con-2" transform="translate(638,823)"><rect class="n b" width="46" height="47"/><text class="l" y="11.6"><tspan x="23">Sparen</tspan><tspan x="23" dy="1.3em">voor</tspan><tspan x="23" dy="1.3em">korting</tspan></text></g>
<g id="con-3" transform="translate(693,823)"><rect class="n p" width="46" height="47"/><text class="xl" style="font-size:13.5px" y="14"><tspan x="23">geld</tspan><tspan x="23" dy="18">geven</tspan></text></g>
<g id="con-4" transform="translate(748,823)"><rect class="n g" width="46" height="47"/><text class="t" y="16"><tspan x="23">Kortingsbon</tspan><tspan x="23" dy="1.25em">voor een</tspan><tspan x="23" dy="1.25em">babyshop</tspan></text></g>
<g id="con-5" transform="translate(803,823)"><rect class="n b" width="46" height="47"/><text class="t" y="16"><tspan x="23">Door gratis</tspan><tspan x="23" dy="1.25em">ophalen weg</tspan><tspan x="23" dy="1.25em">te geven</tspan></text></g>
<g id="con-6" transform="translate(858,823)"><rect class="n p" width="46" height="47"/><text class="s" y="20.4"><tspan x="23">Tas</tspan><tspan x="23" dy="1.25em">(boodschappen)</tspan></text></g>
<g id="con-7" transform="translate(913,823)"><rect class="n p" width="46" height="47"/><text class="s" y="7.9"><tspan x="23">Kortingscode</tspan><tspan x="23" dy="1.25em">wanneer je</tspan><tspan x="23" dy="1.25em">kledingstukken</tspan><tspan x="23" dy="1.25em">inlevert bij een</tspan><tspan x="23" dy="1.25em">deelnemende</tspan><tspan x="23" dy="1.25em">winkel</tspan></text></g>
<g id="con-8" transform="translate(583,883)"><rect class="n p" width="46" height="47"/><text class="s" y="11"><tspan x="23">Iets in de</tspan><tspan x="23" dy="1.25em">zin van</tspan><tspan x="23" dy="1.25em">ruilen, dat</tspan><tspan x="23" dy="1.25em">heel veel</tspan><tspan x="23" dy="1.25em">waard is</tspan></text></g>
<g id="con-9" transform="translate(638,883)"><rect class="n p" width="46" height="47"/><text class="k" x="23" y="23.5">Korting</text></g>
<g id="con-10" transform="translate(693,883)"><rect class="n p" width="46" height="47"/><text class="ml" x="23" y="23.5">Beloning</text></g>
<g id="con-11" transform="translate(748,883)"><rect class="n p" width="46" height="47"/><text class="l" y="17.6"><tspan x="23">Voucher</tspan><tspan x="23" dy="1.25em">opsturen</tspan></text></g>
<g id="con-12" transform="translate(803,883)"><rect class="n g" width="46" height="47"/><text class="t" y="12.25"><tspan x="23">Door het</tspan><tspan x="23" dy="1.25em">financieel</tspan><tspan x="23" dy="1.25em">voordeel te</tspan><tspan x="23" dy="1.25em">laten zien</tspan></text></g>
<g id="con-13" transform="translate(858,883)"><rect class="n g" width="46" height="47"/><text class="s" y="11"><tspan x="23">Wat bespaart</tspan><tspan x="23" dy="1.25em">het kleden</tspan><tspan x="23" dy="1.25em">hoeven</tspan><tspan x="23" dy="1.25em">niet aan te</tspan><tspan x="23" dy="1.25em">schaffen</tspan></text></g>
<g id="con-14" transform="translate(913,883)"><rect class="n b" width="46" height="47"/><text class="t" y="16"><tspan x="23">Ontvangst</tspan><tspan x="23" dy="1.25em">waardering</tspan><tspan x="23" dy="1.25em">te bedanken</tspan></text></g>
<g id="con-15" transform="translate(583,942)"><rect class="n p" width="46" height="47"/><text class="xl" x="23" y="23.5">Koekje</text></g>
<g id="con-16" transform="translate(638,942)"><rect class="n p" width="46" height="47"/><text class="t" y="12.25"><tspan x="23">Korting op</tspan><tspan x="23" dy="1.25em">een nieuw</tspan><tspan x="23" dy="1.25em">product</tspan><tspan x="23" dy="1.25em">van Coolblue</tspan></text></g>
<g id="con-17" transform="translate(693,942)"><rect class="n b" width="46" height="47"/><text class="l" y="11.6"><tspan x="23">Door de</tspan><tspan x="23" dy="1.3em">prijs te</tspan><tspan x="23" dy="1.3em">verlagen</tspan></text></g>
<g id="con-18" transform="translate(748,942)"><rect class="n p" width="46" height="47"/><text class="s" y="14.1"><tspan x="23">Korting bij</tspan><tspan x="23" dy="1.25em">de</tspan><tspan x="23" dy="1.25em">meedoende</tspan><tspan x="23" dy="1.25em">winkel</tspan></text></g>
<g id="con-19" transform="translate(803,942)"><rect class="n g" width="46" height="47"/><text class="s" y="11"><tspan x="23">Cadeaubon</tspan><tspan x="23" dy="1.25em">modezaak</tspan><tspan x="23" dy="1.25em">waar je</tspan><tspan x="23" dy="1.25em">korting kan</tspan><tspan x="23" dy="1.25em">krijgen</tspan></text></g>
<g id="con-20" transform="translate(858,942)"><rect class="n p" width="46" height="47"/><text class="xxl" x="23" y="23.5">Geld</text></g>
<g id="con-21" transform="translate(913,942)"><rect class="n g" width="46" height="47"/><text class="t" y="12.25"><tspan x="23">Kortingsbon</tspan><tspan x="23" dy="1.25em">voor een</tspan><tspan x="23" dy="1.25em">nieuwe</tspan><tspan x="23" dy="1.25em">bestelling</tspan></text></g>
<g id="con-22" transform="translate(583,1002)"><rect class="n p" width="46" height="47"/><text class="m" y="14.1"><tspan x="23">Wens in</tspan><tspan x="23" dy="1.25em">vervulling</tspan><tspan x="23" dy="1.25em">laten gaan</tspan></text></g>
<g id="con-23" transform="translate(638,1002)"><rect class="n g" width="46" height="47"/><text class="t" y="19.75"><tspan x="23">Kortingsbon</tspan><tspan x="23" dy="1.25em">(winkel zelf)</tspan></text></g>
<g id="con-24" transform="translate(693,1002)"><rect class="n p" width="46" height="47"/><text class="t" y="12.25"><tspan x="23">Korting op</tspan><tspan x="23" dy="1.25em">een product</tspan><tspan x="23" dy="1.25em">uit een</tspan><tspan x="23" dy="1.25em">categorie</tspan></text></g>
<g id="con-25" transform="translate(748,1002)"><rect class="n p" width="46" height="47"/><text class="t" y="19.75"><tspan x="23">kortingscode</tspan><tspan x="23" dy="1.25em">geven</tspan></text></g>
<g id="con-26" transform="translate(803,1002)"><rect class="n p" width="46" height="47"/><text class="t" y="12.25"><tspan x="23">Voordelig</tspan><tspan x="23" dy="1.25em">(dan bovenop)</tspan><tspan x="23" dy="1.25em">extra</tspan><tspan x="23" dy="1.25em">betalen</tspan></text></g>
<g id="con-27" transform="translate(858,1002)"><rect class="n p" width="46" height="47"/><text class="ml" x="23" y="23.5">Cadeautje</text></g>
</svg>
